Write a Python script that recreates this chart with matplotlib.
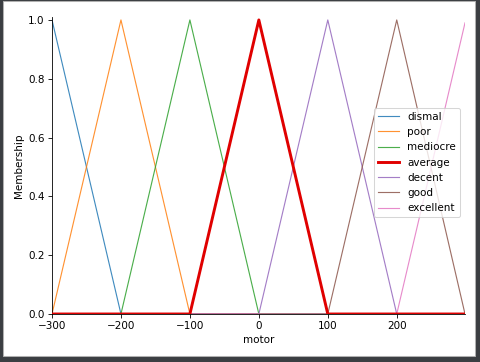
import matplotlib
matplotlib.use("Agg")
import matplotlib.pyplot as plt
from matplotlib.patches import Rectangle

terms = ["dismal", "poor", "mediocre", "average", "decent", "good", "excellent"]
xs = [
    [-300, -200, 299],
    [-300, -200, -100, 299],
    [-300, -200, -100, 0, 299],
    [-300, -100, 0, 100, 299],
    [-300, 0, 100, 200, 299],
    [-300, 100, 200, 299],
    [-300, 200, 299],
]
ys = [
    [1.0, 0.0, 0.0],
    [0.0, 1.0, 0.0, 0.0],
    [0.0, 0.0, 1.0, 0.0, 0.0],
    [0.0, 0.0, 1.0, 0.0, 0.0],
    [0.0, 0.0, 1.0, 0.0, 0.0],
    [0.0, 0.0, 1.0, 0.0],
    [0.0, 0.0, 0.99],
]
highlight = "average"
x_ticks = [-300, -200, -100, 0, 100, 200]
y_ticks = [0.0, 0.2, 0.4, 0.6, 0.8, 1.0]

W, H = 480, 362
fig = plt.figure(figsize=(W / 75, H / 75), dpi=75, facecolor="#3b3e42")
fig.patches.append(Rectangle((3 / W, 6 / H), 472 / W, 355 / H, transform=fig.transFigure,
                             facecolor="white", edgecolor="#b0b0b0", linewidth=1, zorder=-10))
ax = fig.add_axes([52 / W, (H - 314) / H, (465 - 52) / W, (314 - 17) / H])
ax.set_zorder(5)

colors = ["C0", "C1", "C2", "C3", "C4", "C5", "C6"]
for i, (t, x, y) in enumerate(zip(terms, xs, ys)):
    if t == highlight:
        ax.plot(x, y, color="#e00000", linewidth=2.8, label=t, zorder=3)
    else:
        ax.plot(x, y, color=colors[i], linewidth=1.1, alpha=0.85, label=t, zorder=2)

ax.set_xlim(-300, 299)
ax.set_ylim(0, 1.01)
ax.set_xticks(x_ticks)
ax.set_yticks(y_ticks)
ax.spines["top"].set_visible(False)
ax.spines["right"].set_visible(False)
ax.set_xlabel("motor")
ax.set_ylabel("Membership")
ax.legend(loc="center right", framealpha=0.8, bbox_to_anchor=(1.0, 0.51))

fig.savefig("out.png", dpi=75, facecolor=fig.get_facecolor())
